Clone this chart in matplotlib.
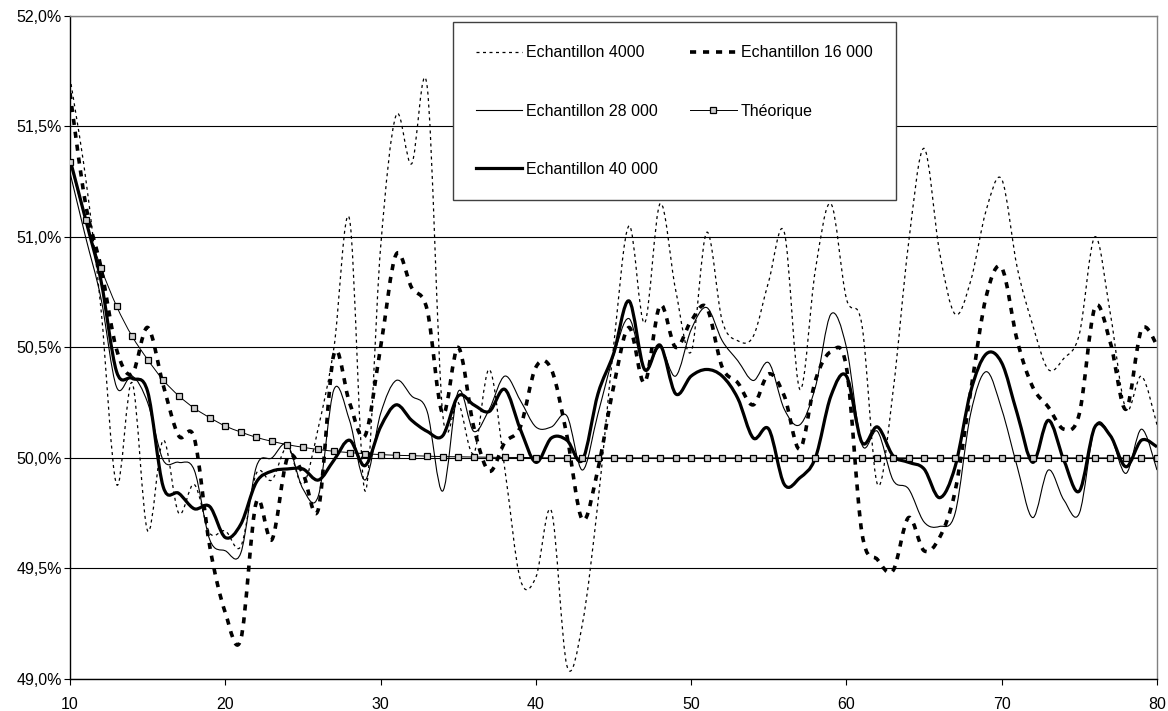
import numpy as np
import matplotlib
matplotlib.use("Agg")
import matplotlib.pyplot as plt
from matplotlib.path import Path
from matplotlib.patches import PathPatch
from matplotlib.lines import Line2D
from matplotlib.ticker import FuncFormatter, MultipleLocator

plt.rcParams['font.family'] = ['Liberation Sans', 'DejaVu Sans']

# ---------------- data ----------------
sizes = list(range(10, 81))

ech_4000 = [51.72, 51.27, 50.67, 49.88, 50.34, 49.67, 50.08, 49.75, 49.88, 49.66,
            49.67, 49.60, 49.93, 49.90, 50.05, 49.88, 50.14, 50.50, 51.08, 49.85,
            50.95, 51.55, 51.33, 51.68, 50.20, 50.25, 50.02, 50.40, 49.95, 49.45,
            49.46, 49.76, 49.06, 49.25, 49.80, 50.50, 51.05, 50.61, 51.15, 50.76,
            50.48, 51.02, 50.62, 50.53, 50.55, 50.80, 51.02, 50.31, 50.85, 51.15,
            50.72, 50.60, 49.88, 50.30, 50.97, 51.40, 50.93, 50.65, 50.80, 51.12,
            51.26, 50.86, 50.60, 50.40, 50.45, 50.56, 51.00, 50.65, 50.22, 50.37,
            50.15]

ech_16000 = [51.65, 51.15, 50.86, 50.49, 50.38, 50.59, 50.33, 50.10, 50.09, 49.60,
             49.30, 49.18, 49.80, 49.63, 50.00, 49.93, 49.77, 50.47, 50.25, 50.10,
             50.50, 50.92, 50.77, 50.67, 50.20, 50.50, 50.14, 49.94, 50.07, 50.14,
             50.41, 50.40, 50.10, 49.72, 49.95, 50.32, 50.59, 50.34, 50.69, 50.50,
             50.62, 50.68, 50.41, 50.34, 50.24, 50.38, 50.28, 50.04, 50.35, 50.48,
             50.41, 49.66, 49.54, 49.49, 49.73, 49.58, 49.64, 49.85, 50.30, 50.73,
             50.86, 50.53, 50.32, 50.23, 50.13, 50.20, 50.68, 50.52, 50.22, 50.58,
             50.51]

ech_28000 = [51.29, 51.00, 50.72, 50.32, 50.37, 50.25, 49.99, 49.98, 49.945, 49.63,
             49.58, 49.57, 49.96, 50.00, 50.06, 49.86, 49.83, 50.31, 50.17, 49.90,
             50.20, 50.35, 50.28, 50.21, 49.85, 50.30, 50.12, 50.22, 50.37, 50.26,
             50.14, 50.14, 50.19, 49.945, 50.20, 50.46, 50.63, 50.40, 50.50, 50.37,
             50.58, 50.68, 50.53, 50.44, 50.35, 50.43, 50.22, 50.15, 50.32, 50.65,
             50.50, 50.06, 50.12, 49.90, 49.86, 49.71, 49.69, 49.75, 50.20, 50.39,
             50.22, 49.96, 49.73, 49.945, 49.81, 49.75, 50.14, 50.10, 49.93, 50.13,
             49.945]

ech_40000 = [51.35, 51.08, 50.80, 50.39, 50.36, 50.30, 49.87, 49.84, 49.77, 49.78,
             49.64, 49.70, 49.89, 49.94, 49.95, 49.95, 49.90, 49.99, 50.08, 49.965,
             50.14, 50.24, 50.17, 50.12, 50.10, 50.28, 50.24, 50.21, 50.31, 50.13,
             49.98, 50.09, 50.08, 49.99, 50.29, 50.47, 50.71, 50.40, 50.51, 50.29,
             50.37, 50.40, 50.37, 50.27, 50.09, 50.13, 49.88, 49.91, 50.00, 50.28,
             50.37, 50.07, 50.14, 50.01, 49.98, 49.95, 49.82, 49.96, 50.30, 50.47,
             50.43, 50.20, 49.98, 50.17, 49.99, 49.85, 50.14, 50.10, 49.96, 50.08,
             50.05]

theorique = [51.34, 51.075, 50.86, 50.686, 50.55, 50.445, 50.352, 50.281, 50.225, 50.182,
             50.144, 50.117, 50.093, 50.075, 50.06, 50.048, 50.038, 50.03, 50.024, 50.019,
             50.015, 50.012, 50.01, 50.008, 50.006, 50.005, 50.004, 50.003, 50.002, 50.002,
             50.001, 50.0, 50.0, 50.0, 50.0, 50.0, 50.0, 50.0, 50.0, 50.0,
             50.0, 50.0, 50.0, 50.0, 50.0, 50.0, 50.0, 50.0, 50.0, 50.0,
             50.0, 50.0, 50.0, 50.0, 50.0, 50.0, 50.0, 50.0, 50.0, 50.0,
             50.0, 50.0, 50.0, 50.0, 50.0, 50.0, 50.0, 50.0, 50.0, 50.0,
             50.0]

labels = ["Echantillon 4000", "Echantillon 16 000", "Echantillon 28 000",
          "Théorique", "Echantillon 40 000"]

x_ticks = [10, 20, 30, 40, 50, 60, 70, 80]


# ------------- smoothed (Excel-like Bezier) path -------------
def smooth_path(x, y):
    pts = np.column_stack([np.asarray(x, float), np.asarray(y, float)])
    ext = np.vstack([pts[0], pts, pts[-1]])
    verts = [pts[0]]
    codes = [Path.MOVETO]
    for i in range(len(pts) - 1):
        p0, p1, p2, p3 = ext[i], ext[i + 1], ext[i + 2], ext[i + 3]
        c1 = p1 + (p2 - p0) / 6.0
        c2 = p2 - (p3 - p1) / 6.0
        verts += [c1, c2, p2]
        codes += [Path.CURVE4] * 3
    return Path(verts, codes)


fig = plt.figure(figsize=(11.68, 7.11), dpi=100)
ax = fig.add_axes([70 / 1168, 1 - 679 / 711, 1087 / 1168, 663.3 / 711])

ax.set_xlim(10, 80)
ax.set_ylim(49.0, 52.0)

styles = {
    "4000": dict(lw=0.9, ls=(0, (2.4, 2.8))),
    "16000": dict(lw=2.6, ls=(0, (1.7, 1.9))),
    "28000": dict(lw=0.8, ls='-'),
    "theo": dict(lw=0.7, ls='-'),
    "40000": dict(lw=2.3, ls='-'),
}

series = [("4000", ech_4000), ("16000", ech_16000), ("28000", ech_28000),
          ("theo", theorique), ("40000", ech_40000)]

for key, vals in series:
    st = styles[key]
    patch = PathPatch(smooth_path(sizes, vals), facecolor='none', edgecolor='black',
                      linewidth=st['lw'], linestyle=st['ls'], zorder=3,
                      capstyle='butt', joinstyle='round')
    ax.add_patch(patch)
    if key == "theo":
        ax.plot(sizes, vals, linestyle='none', marker='s', markersize=4.4,
                markerfacecolor='#d0d0d0', markeredgecolor='black',
                markeredgewidth=0.9, zorder=4)

# grid & axes
ax.yaxis.set_major_locator(MultipleLocator(0.5))
ax.set_xticks(x_ticks)
ax.yaxis.set_major_formatter(FuncFormatter(lambda v, p: f"{v:.1f}".replace('.', ',') + "%"))
ax.grid(axis='y', color='black', linewidth=0.8, zorder=0)
ax.grid(axis='x', visible=False)
ax.set_axisbelow(True)

for s in ['left', 'bottom']:
    ax.spines[s].set_color('black')
    ax.spines[s].set_linewidth(1.0)
for s in ['right', 'top']:
    ax.spines[s].set_color('#808080')
    ax.spines[s].set_linewidth(1.0)

ax.tick_params(axis='both', direction='out', length=4, width=0.8, labelsize=11.5,
               colors='black')
ax.tick_params(axis='x', pad=9)
ax.tick_params(axis='y', pad=2)

# legend
handles = [
    Line2D([], [], color='black', lw=styles["4000"]['lw'], ls=styles["4000"]['ls']),
    Line2D([], [], color='black', lw=styles["28000"]['lw'], ls='-'),
    Line2D([], [], color='black', lw=styles["40000"]['lw'], ls='-'),
    Line2D([], [], color='black', lw=styles["16000"]['lw'], ls=styles["16000"]['ls']),
    Line2D([], [], color='black', lw=styles["theo"]['lw'], ls='-', marker='s',
           markersize=4.4, markerfacecolor='#d0d0d0', markeredgecolor='black',
           markeredgewidth=0.9),
]
leg_labels = [labels[0], labels[2], labels[4], labels[1], labels[3]]
leg = fig.legend(handles, leg_labels, ncol=2, loc='upper left',
                 bbox_to_anchor=(453 / 1168, 1 - 22 / 711),
                 bbox_transform=fig.transFigure, fontsize=11.5,
                 frameon=True, fancybox=False, shadow=False, framealpha=1,
                 edgecolor='#404040', borderpad=1.45, labelspacing=2.72,
                 handlelength=2.9, handletextpad=0.25, columnspacing=2.0,
                 borderaxespad=0)
leg.get_frame().set_linewidth(1.0)
leg.set_zorder(10)

fig.savefig("out.png", dpi=100, facecolor='white')
